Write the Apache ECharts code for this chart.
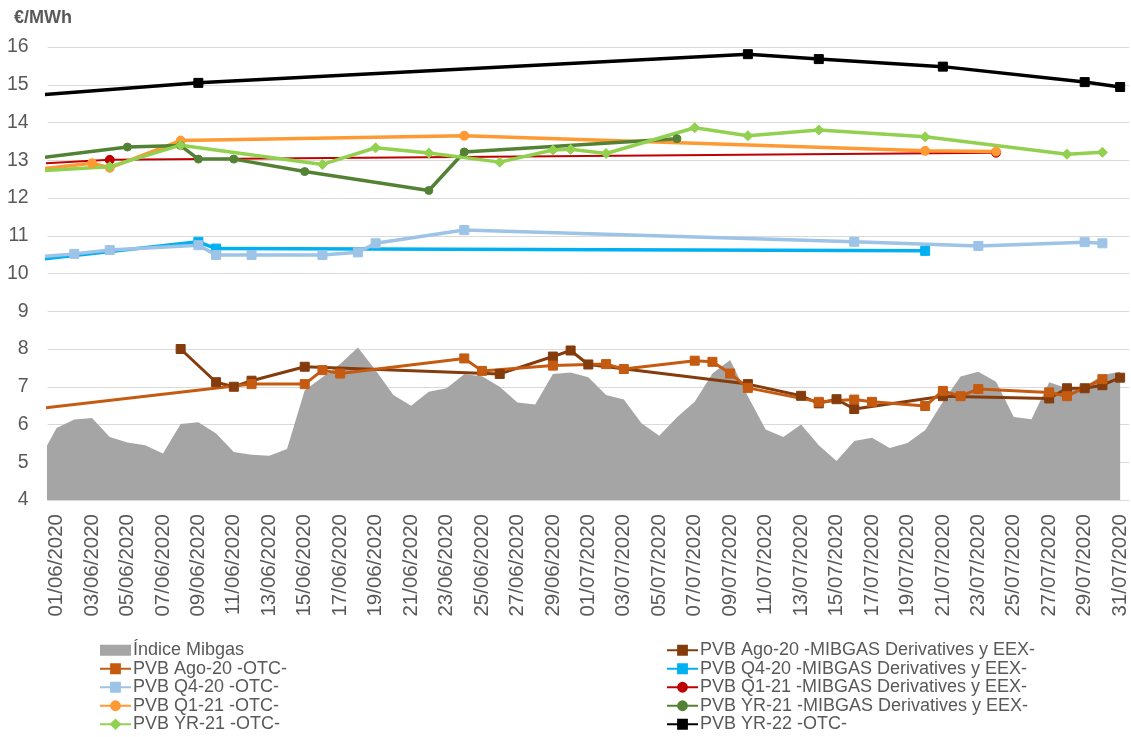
<!DOCTYPE html>
<html>
<head>
<meta charset="utf-8">
<script src="https://cdn.jsdelivr.net/npm/echarts@6/dist/echarts.min.js"></script>
<style>
html,body{margin:0;padding:0;background:#fff;}
#chart{width:1131px;height:737px;}
</style>
</head>
<body>
<div id="chart"></div>
<script>
// Categories (tick labels)
const dates = ['01/06/2020','02/06/2020','03/06/2020','04/06/2020','05/06/2020','06/06/2020','07/06/2020','08/06/2020','09/06/2020','10/06/2020',
'11/06/2020','12/06/2020','13/06/2020','14/06/2020','15/06/2020','16/06/2020','17/06/2020','18/06/2020','19/06/2020','20/06/2020',
'21/06/2020','22/06/2020','23/06/2020','24/06/2020','25/06/2020','26/06/2020','27/06/2020','28/06/2020','29/06/2020','30/06/2020',
'01/07/2020','02/07/2020','03/07/2020','04/07/2020','05/07/2020','06/07/2020','07/07/2020','08/07/2020','09/07/2020','10/07/2020',
'11/07/2020','12/07/2020','13/07/2020','14/07/2020','15/07/2020','16/07/2020','17/07/2020','18/07/2020','19/07/2020','20/07/2020',
'21/07/2020','22/07/2020','23/07/2020','24/07/2020','25/07/2020','26/07/2020','27/07/2020','28/07/2020','29/07/2020','30/07/2020','31/07/2020'];

// Índice Mibgas (daily), plus the previous day's value (31/05) that enters at the left edge
const mibgasPrevDate = '31/05/2020';
const mibgasPrevValue = 5.05;
const mibgas = [5.91,6.13,6.17,5.67,5.52,5.45,5.23,6.01,6.06,5.76,
5.27,5.20,5.17,5.35,6.91,7.25,7.60,8.04,7.44,6.78,
6.50,6.87,6.96,7.33,7.28,7.00,6.58,6.53,7.34,7.38,
7.25,6.78,6.66,6.03,5.70,6.19,6.60,7.35,7.71,6.75,
5.87,5.67,6.00,5.45,5.03,5.56,5.65,5.38,5.51,5.85,
6.60,7.27,7.40,7.13,6.20,6.14,7.12,6.96,7.00,7.31,7.40];

// PVB Ago-20 -MIBGAS Derivatives y EEX-
const agoMibDates = ['08/06/2020','10/06/2020','11/06/2020','12/06/2020','15/06/2020','26/06/2020','29/06/2020','30/06/2020','01/07/2020','10/07/2020','13/07/2020','14/07/2020','15/07/2020','16/07/2020','21/07/2020','27/07/2020','28/07/2020','29/07/2020','30/07/2020','31/07/2020'];
const agoMibVals  = [8.00,7.12,7.00,7.16,7.53,7.34,7.80,7.96,7.59,7.07,6.76,6.56,6.67,6.41,6.75,6.69,6.96,6.96,7.04,7.24];

// PVB Ago-20 -OTC-
const agoOtcDates = ['31/05/2020','12/06/2020','15/06/2020','16/06/2020','17/06/2020','24/06/2020','25/06/2020','29/06/2020','02/07/2020','03/07/2020','07/07/2020','08/07/2020','09/07/2020','10/07/2020','14/07/2020','16/07/2020','17/07/2020','20/07/2020','21/07/2020','22/07/2020','23/07/2020','27/07/2020','28/07/2020','30/07/2020'];
const agoOtcVals  = [6.42,7.07,7.07,7.44,7.35,7.75,7.42,7.56,7.60,7.47,7.69,7.66,7.35,6.97,6.60,6.66,6.60,6.49,6.89,6.75,6.94,6.85,6.75,7.20];

// PVB Q4-20 -MIBGAS Derivatives y EEX-
const q4MibDates = ['31/05/2020','09/06/2020','10/06/2020','20/07/2020'];
const q4MibVals  = [10.37,10.84,10.66,10.60];

// PVB Q4-20 -OTC-
const q4OtcDates = ['31/05/2020','02/06/2020','04/06/2020','09/06/2020','10/06/2020','12/06/2020','16/06/2020','18/06/2020','19/06/2020','24/06/2020','16/07/2020','23/07/2020','29/07/2020','30/07/2020'];
const q4OtcVals  = [10.44,10.52,10.62,10.75,10.49,10.49,10.49,10.56,10.80,11.15,10.84,10.73,10.83,10.80];

// PVB Q1-21 -MIBGAS Derivatives y EEX-
const q1MibDates = ['31/05/2020','04/06/2020','24/07/2020'];
const q1MibVals  = [12.91,13.01,13.20];

// PVB Q1-21 -OTC-
const q1OtcDates = ['31/05/2020','03/06/2020','04/06/2020','08/06/2020','24/06/2020','20/07/2020','24/07/2020'];
const q1OtcVals  = [12.76,12.92,12.80,13.52,13.65,13.25,13.23];

// PVB YR-21 -MIBGAS Derivatives y EEX-
const yr21MibDates = ['31/05/2020','05/06/2020','08/06/2020','09/06/2020','11/06/2020','15/06/2020','22/06/2020','24/06/2020','06/07/2020'];
const yr21MibVals  = [13.06,13.35,13.39,13.03,13.03,12.70,12.20,13.22,13.57];

// PVB YR-21 -OTC-
const yr21OtcDates = ['31/05/2020','04/06/2020','08/06/2020','16/06/2020','19/06/2020','22/06/2020','26/06/2020','29/06/2020','30/06/2020','02/07/2020','07/07/2020','10/07/2020','14/07/2020','20/07/2020','28/07/2020','30/07/2020'];
const yr21OtcVals  = [12.72,12.83,13.40,12.89,13.33,13.19,12.95,13.27,13.29,13.18,13.86,13.65,13.80,13.62,13.16,13.21];

// PVB YR-22 -OTC-
const yr22Dates = ['31/05/2020','09/06/2020','10/07/2020','14/07/2020','21/07/2020','29/07/2020','31/07/2020'];
const yr22Vals  = [14.73,15.05,15.81,15.68,15.48,15.07,14.94];

const yTicks = {min: 4, max: 16, interval: 1};

// ---------- build ----------
function dayIndex(s) {
  const p = s.split('/').map(Number);
  return Math.round((Date.UTC(p[2], p[1] - 1, p[0]) - Date.UTC(2020, 5, 1)) / 86400000);
}
function zip(ds, vs) {
  return ds.map((d, i) => {
    const x = dayIndex(d);
    return x < 0 ? {value: [x, vs[i]], symbol: 'none'} : [x, vs[i]];
  });
}
function lineSeries(name, ds, vs, color, symbol, size, width) {
  return {
    name: name, type: 'line', xAxisIndex: 1, yAxisIndex: 0,
    data: zip(ds, vs),
    symbol: symbol, symbolSize: size, showAllSymbol: true,
    lineStyle: {color: color, width: width},
    itemStyle: {color: color, borderColor: color, borderWidth: 1},
    clip: true, z: 3
  };
}

const FONT = "'Liberation Sans', Arial, sans-serif";
const TXT = '#595959';

const mibgasData = [{value: [dayIndex(mibgasPrevDate), mibgasPrevValue], symbol: 'none'}]
  .concat(mibgas.map((v, i) => [i, v]));

const series = [
  {
    name: 'Índice Mibgas', type: 'line', xAxisIndex: 1, yAxisIndex: 0,
    data: mibgasData, symbol: 'none', showSymbol: false,
    lineStyle: {width: 0, color: '#A5A5A5'},
    itemStyle: {color: '#A5A5A5'},
    areaStyle: {color: '#A5A5A5', opacity: 1, origin: 'start'},
    clip: true, z: 2
  },
  lineSeries('PVB Ago-20 -MIBGAS Derivatives y EEX-', agoMibDates, agoMibVals, '#843C0C', 'rect', 9, 3),
  lineSeries('PVB Ago-20 -OTC-', agoOtcDates, agoOtcVals, '#C55A11', 'rect', 9, 3),
  lineSeries('PVB Q4-20 -MIBGAS Derivatives y EEX-', q4MibDates, q4MibVals, '#00B0F0', 'rect', 9, 3.5),
  lineSeries('PVB Q4-20 -OTC-', q4OtcDates, q4OtcVals, '#9DC3E6', 'rect', 9, 3.5),
  lineSeries('PVB Q1-21 -MIBGAS Derivatives y EEX-', q1MibDates, q1MibVals, '#C00000', 'circle', 9, 2),
  lineSeries('PVB Q1-21 -OTC-', q1OtcDates, q1OtcVals, '#FF9933', 'circle', 9, 3.5),
  lineSeries('PVB YR-21 -MIBGAS Derivatives y EEX-', yr21MibDates, yr21MibVals, '#548235', 'circle', 8, 3.5),
  lineSeries('PVB YR-21 -OTC-', yr21OtcDates, yr21OtcVals, '#92D050', 'diamond', 10, 3.5),
  lineSeries('PVB YR-22 -OTC-', yr22Dates, yr22Vals, '#000000', 'rect', 9, 3.5)
];

const legendCommon = {
  orient: 'vertical', top: 641, padding: 0, itemGap: 0, itemWidth: 31, itemHeight: 11,
  height: 96,
  textStyle: {fontFamily: FONT, fontSize: 18, color: TXT, lineHeight: 18.5, padding: [0, 0, 0, -3]},
  selectedMode: false
};

const option = {
  animation: false,
  backgroundColor: '#fff',
  title: {
    text: '€/MWh', left: 9, top: 4,
    textStyle: {fontFamily: FONT, fontSize: 18, fontWeight: 'bold', color: TXT}
  },
  legend: [
    Object.assign({}, legendCommon, {
      left: 99,
      data: [
        {name: 'Índice Mibgas', icon: 'rect', itemStyle: {color: '#A5A5A5'}},
        'PVB Ago-20 -OTC-', 'PVB Q4-20 -OTC-', 'PVB Q1-21 -OTC-', 'PVB YR-21 -OTC-'
      ]
    }),
    Object.assign({}, legendCommon, {
      left: 666,
      data: ['PVB Ago-20 -MIBGAS Derivatives y EEX-', 'PVB Q4-20 -MIBGAS Derivatives y EEX-',
             'PVB Q1-21 -MIBGAS Derivatives y EEX-', 'PVB YR-21 -MIBGAS Derivatives y EEX-',
             'PVB YR-22 -OTC-']
    })
  ],
  grid: {left: 47.7, right: 2, top: 47, bottom: 237, containLabel: false},
  xAxis: [
    {
      type: 'category', data: dates, boundaryGap: true, position: 'bottom',
      axisLine: {show: true, lineStyle: {color: '#D9D9D9', width: 1}},
      axisTick: {show: false},
      axisLabel: {interval: 1, rotate: 90, fontFamily: FONT, fontSize: 20.5, color: TXT, margin: 14},
      splitLine: {show: false}
    },
    {type: 'value', min: -0.5, max: 60.5, show: false, splitLine: {show: false}}
  ],
  yAxis: [{
    type: 'value', min: yTicks.min, max: yTicks.max, interval: yTicks.interval,
    axisLine: {show: false}, axisTick: {show: false},
    axisLabel: {fontFamily: FONT, fontSize: 19.5, color: TXT, margin: 19},
    splitLine: {lineStyle: {color: '#D9D9D9', width: 1}}
  }],
  series: series
};

const chart = echarts.init(document.getElementById('chart'), null, {renderer: 'canvas'});
chart.setOption(option);
</script>
</body>
</html>
